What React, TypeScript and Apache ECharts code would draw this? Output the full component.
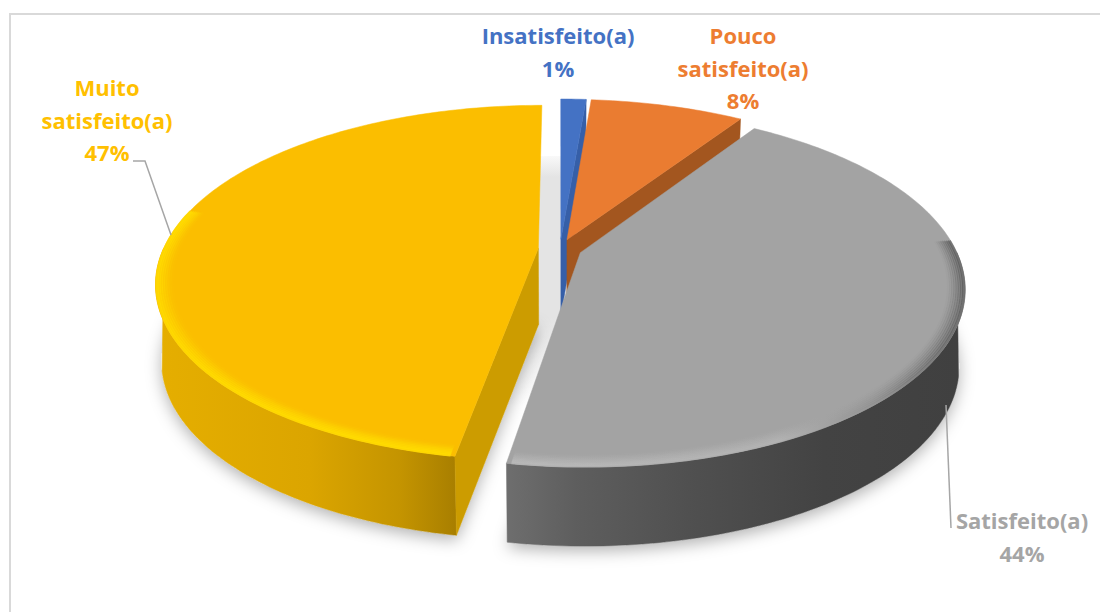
import React, { useEffect, useRef } from "react";
import * as echarts from "echarts";

const categories = ["Insatisfeito(a)", "Pouco satisfeito(a)", "Satisfeito(a)", "Muito satisfeito(a)"];
const values = [1.3, 7.9, 43.5, 47.3];
const labelLines = [["Insatisfeito(a)"], ["Pouco", "satisfeito(a)"], ["Satisfeito(a)"], ["Muito", "satisfeito(a)"]];
const labelColors = ["#4472C4", "#ED7D31", "#A5A5A5", "#FFC000"];
const topColors = ["#4472C4", "#EA7C31", "#A3A3A3", "#FBBE00"];
const cutColors = ["#365FA8", "#A3561F", "#5a5a5a", "#CC9C00"];

// projection of the tilted disc
const CX = 560, CY = 249, A = 375, B = 171, K = 0.195, EXPLODE = 0.058, FOOT = 0.985;
const project = (u: number, v: number) => {
  const d = 1 - K * v;
  return [CX + (A * u) / d, CY + (B * v) / d];
};
const thickness = (v: number) => 76 + 3 * v;
const lower = (p: number[], v: number) => [CX + (p[0] - CX) * FOOT, p[1] + thickness(v)];
const rad = (d: number) => (d * Math.PI) / 180;
const total = values.reduce((a, b) => a + b, 0);
const angleAt = (i: number) => (values.slice(0, i).reduce((a, b) => a + b, 0) / total) * 360;

const wallFill = [
  null,
  null,
  new echarts.graphic.LinearGradient(507, 0, 960, 0, [
    { offset: 0, color: "#6e6e6e" },
    { offset: 0.15, color: "#5e5e5e" },
    { offset: 0.4, color: "#505050" },
    { offset: 0.7, color: "#434343" },
    { offset: 1, color: "#404040" },
  ], true),
  new echarts.graphic.LinearGradient(160, 0, 460, 0, [
    { offset: 0, color: "#E5AE00" },
    { offset: 0.5, color: "#DBA500" },
    { offset: 0.8, color: "#C49400" },
    { offset: 1, color: "#A67D00" },
  ], true),
];
const bevelStroke = [
  null,
  null,
  new echarts.graphic.LinearGradient(500, 0, 965, 0, [
    { offset: 0, color: "#bebebe" },
    { offset: 0.6, color: "#b6b6b6" },
    { offset: 0.8, color: "#8e8e8e" },
    { offset: 0.95, color: "#5c5c5c" },
    { offset: 1, color: "#4e4e4e" },
  ], true),
  "#FFDC00",
];
const bevelRange: (number[] | null)[] = [null, null, [86, 191], [190, 283]];

const sliceGeometry = (i: number, value: number) => {
  const a0 = angleAt(i);
  const a1 = a0 + (value / total) * 360;
  const mid = rad((a0 + a1) / 2);
  const ou = Math.sin(mid) * EXPLODE;
  const ov = -Math.cos(mid) * EXPLODE;
  const rimPoint = (deg: number, r = 1, drop = false) => {
    const u = ou + r * Math.sin(rad(deg));
    const v = ov - r * Math.cos(rad(deg));
    const p = project(u, v);
    return drop ? lower(p, v) : p;
  };
  const arc = (from: number, to: number, r = 1, drop = false) => {
    const pts: number[][] = [];
    const n = Math.max(2, Math.ceil(Math.abs(to - from)));
    for (let k = 0; k <= n; k++) pts.push(rimPoint(from + ((to - from) * k) / n, r, drop));
    return pts;
  };
  const apex = project(ou, ov);
  return { a0, a1, rimPoint, arc, apex, apexLow: lower(apex, ov) };
};

function renderSlice(params: any, api: any) {
  const i = params.dataIndex;
  const { a0, a1, rimPoint, arc, apex, apexLow } = sliceGeometry(i, api.value(0));
  const children: any[] = [];
  const poly = (points: number[][], fill: any) =>
    children.push({ type: "polygon", shape: { points }, style: { fill, stroke: fill, lineWidth: 0.5 } });

  // visible walls only: each slice shows either its rim or a cut face
  if (i === 2) poly([...arc(90, a1), ...arc(a1, 105, 1, true)], wallFill[i]);
  if (i === 3) {
    poly([...arc(a0, 270), ...arc(255, a0, 1, true)], wallFill[i]);
    poly([apex, rimPoint(a0), rimPoint(a0, 1, true), apexLow], cutColors[i]);
  }
  if (i < 2) poly([apex, rimPoint(a1), rimPoint(a1, 1, true), apexLow], cutColors[i]);
  // top face
  poly([apex, ...arc(a0, a1)], topColors[i]);
  // rim bevel
  const range = bevelRange[i];
  if (range) {
    const layers = 8;
    const from = Math.max(range[0], a0 + 0.6);
    const to = Math.min(range[1], a1 - 0.6);
    for (let l = 0; l < layers; l++) {
      children.push({
        type: "polyline",
        shape: { points: arc(from, to, 0.9965 - 0.0055 * l) },
        style: {
          fill: "none",
          stroke: bevelStroke[i],
          lineWidth: 3,
          opacity: (i === 3 ? 0.8 : 0.6) * Math.pow(1 - l / layers, 1.3),
        },
      });
    }
  }
  return { type: "group", children };
}

function renderGapShade() {
  const pts: number[][] = [];
  for (let d = 0; d < 360; d += 2) {
    const p = project(Math.sin(rad(d)), -Math.cos(rad(d)));
    pts.push([p[0], p[1] + 50]);
  }
  return {
    type: "polygon",
    shape: { points: pts },
    style: {
      fill: new echarts.graphic.LinearGradient(0, 150, 0, 420, [
        { offset: 0, color: "#ffffff" },
        { offset: 0.1, color: "#e4e4e4" },
        { offset: 0.62, color: "#e4e4e4" },
        { offset: 0.95, color: "#ffffff" },
        { offset: 1, color: "#ffffff" },
      ], true),
    },
  };
}

function renderSliceShadow(params: any, api: any) {
  const i = params.dataIndex;
  const { a0, a1, arc, apexLow } = sliceGeometry(i, api.value(0));
  if (i < 2) return { type: "group", children: [] };
  const points = i === 2 ? [apexLow, ...arc(60, a1, 1, true)] : [apexLow, ...arc(a0, 300, 1, true)];
  return {
    type: "polygon",
    shape: { points },
    style: {
      fill: "#f0f0f0",
      shadowBlur: 16,
      shadowOffsetY: 5,
      shadowColor: "rgba(0,0,0,0.3)",
    },
  };
}

const labelAnchors = [
  { x: 558, y: 35 },
  { x: 743, y: 35 },
  { x: 1022, y: 520 },
  { x: 107, y: 87 },
];

export default function App() {
  const ref = useRef<HTMLDivElement>(null);
  useEffect(() => {
    document.body.style.margin = "0";
    const chart = echarts.init(ref.current!, null, { renderer: "svg" });
    const LINE = 32.5;
    const graphic: any[] = [
      { type: "rect", z: 0, shape: { x: 10, y: 14, width: 1300, height: 800 }, style: { fill: "none", stroke: "#D9D9D9", lineWidth: 2 } },
      { type: "polyline", z: 5, shape: { points: [[133, 161], [145, 161], [171, 235]] }, style: { fill: "none", stroke: "#A6A6A6", lineWidth: 1.5 } },
      { type: "polyline", z: 5, shape: { points: [[946, 405], [951, 528]] }, style: { fill: "none", stroke: "#A6A6A6", lineWidth: 1.5 } },
    ];
    categories.forEach((name, i) => {
      const lines = [...labelLines[i], `${Math.round(values[i])}%`];
      lines.forEach((t, k) => {
        graphic.push({
          type: "text",
          z: 6,
          x: labelAnchors[i].x,
          y: labelAnchors[i].y + k * LINE,
          style: {
            text: t,
            fill: labelColors[i],
            font: 'bold 22px "Open Sans", sans-serif',
            textAlign: "center",
            textVerticalAlign: "middle",
          },
        });
      });
    });
    const sliceData = categories.map((name, i) => ({ name, value: [values[i]] }));
    chart.setOption({
      animation: false,
      backgroundColor: "#ffffff",
      graphic,
      series: [
        { type: "custom", coordinateSystem: "none", silent: true, z: 1, data: [0], renderItem: renderGapShade },
        { type: "custom", coordinateSystem: "none", silent: true, z: 1, data: sliceData, renderItem: renderSliceShadow },
        { type: "custom", coordinateSystem: "none", silent: true, z: 2, data: sliceData, renderItem: renderSlice },
      ],
    });
    return () => chart.dispose();
  }, []);
  return <div ref={ref} style={{ position: "fixed", left: 0, top: 0, width: 1100, height: 612 }} />;
}
